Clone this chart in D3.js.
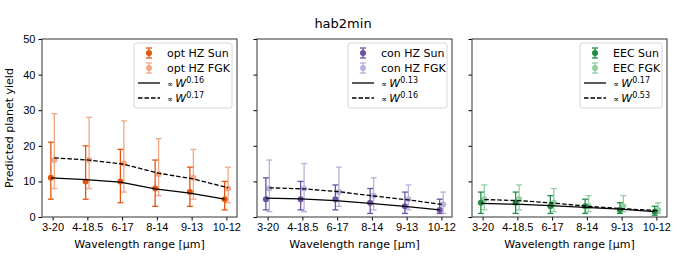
<!DOCTYPE html>
<meta charset="utf-8">
<style>
  body { margin: 0; background: #fff; }
  svg { font-family: "DejaVu Sans", sans-serif; }
  .tick text { font-size: 11px; fill: #000; }
  .tick line { stroke: #000; }
  .domain { display: none; }
</style>
<body>
<div id="chart"></div>
<script src="https://d3js.org/d3.v7.min.js"></script>
<script>
const categories = ["3-20", "4-18.5", "6-17", "8-14", "9-13", "10-12"];
const yTicks = [0, 10, 20, 30, 40, 50];

// opt HZ
const optSun = [11, 10, 10, 8, 7, 5];
const optSunLo = [5, 5, 4, 3, 3, 2];
const optSunHi = [21, 20, 19, 16, 14, 10];
const optFgk = [16, 16, 15, 12, 11, 8];
const optFgkLo = [8, 8, 7, 6, 5, 4];
const optFgkHi = [29, 28, 27, 22, 19, 14];
const optFitSun = [11, 10.5, 9.8, 7.9, 6.7, 5];
const optFitFgk = [16.6, 16, 14.8, 12.3, 10.7, 8.2];

// con HZ
const conSun = [5, 5, 5, 4, 3, 2];
const conSunLo = [2, 2, 2, 1, 1, 1];
const conSunHi = [11, 10, 9, 8, 7, 5];
const conFgk = [8, 8, 7, 6, 5, 3.5];
const conFgkLo = [1.5, 1.5, 3, 2, 2, 1];
const conFgkHi = [16, 15, 14, 11, 9, 7];
const conFitSun = [5.3, 5.1, 4.6, 3.8, 3.0, 2.0];
const conFitFgk = [8.2, 7.9, 7.1, 5.9, 4.8, 3.5];

// EEC
const eecSun = [4, 4, 3, 3, 2, 1.5];
const eecSunLo = [1, 1, 1, 1, 1, 0.5];
const eecSunHi = [7, 7, 6, 5, 4, 3];
const eecFgk = [5, 5, 4, 3, 3, 2];
const eecFgkLo = [2, 2, 1.5, 1.5, 1.5, 1];
const eecFgkHi = [9, 9, 8, 6, 6, 4];
const eecFitSun = [3.8, 3.6, 3.2, 2.7, 2.2, 1.5];
const eecFitFgk = [4.9, 4.6, 3.9, 3.0, 2.3, 1.8];

const panels = [
  {left: 42, name: "opt HZ", sunColor: "#e6550d", fgkColor: "#f08a5d", exps: ["0.16", "0.17"],
   sun: optSun, sunLo: optSunLo, sunHi: optSunHi, fgk: optFgk, fgkLo: optFgkLo, fgkHi: optFgkHi,
   fitSun: optFitSun, fitFgk: optFitFgk, legX: 134, legW: 98},
  {left: 257, name: "con HZ", sunColor: "#6a51a3", fgkColor: "#a397d0", exps: ["0.13", "0.16"],
   sun: conSun, sunLo: conSunLo, sunHi: conSunHi, fgk: conFgk, fgkLo: conFgkLo, fgkHi: conFgkHi,
   fitSun: conFitSun, fitFgk: conFitFgk, legX: 348, legW: 99},
  {left: 472, name: "EEC", sunColor: "#238b45", fgkColor: "#6fbf85", exps: ["0.17", "0.53"],
   sun: eecSun, sunLo: eecSunLo, sunHi: eecSunHi, fgk: eecFgk, fgkLo: eecFgkLo, fgkHi: eecFgkHi,
   fitSun: eecFitSun, fitFgk: eecFitFgk, legX: 580, legW: 82}
];

const width = 685, height = 257;
const plotTop = 39, plotBottom = 217, pw = 195;

const svg = d3.select("#chart").append("svg")
  .attr("width", width).attr("height", height);

svg.append("text").attr("x", 343).attr("y", 28).attr("text-anchor", "middle")
  .style("font-size", "13px").text("hab2min");

const y = d3.scaleLinear().domain([0, 50]).range([plotBottom, plotTop]);
const off = 0.05;

panels.forEach((p, pi) => {
  const x = d3.scaleLinear().domain([-0.305, 5.305]).range([p.left, p.left + pw]);
  const g = svg.append("g");

  // axes
  g.append("g").attr("transform", `translate(0,${plotBottom})`)
    .call(d3.axisBottom(x).tickValues(d3.range(categories.length))
      .tickFormat(i => categories[i]).tickSize(3.5).tickPadding(3));
  g.append("g").attr("transform", `translate(${p.left},0)`)
    .call(d3.axisLeft(y).tickValues(yTicks).tickSize(3.5).tickPadding(3)
      .tickFormat(pi === 0 ? d3.format("d") : () => ""));

  g.append("text").attr("x", p.left + pw / 2).attr("y", 248).attr("text-anchor", "middle")
    .style("font-size", "11px").text("Wavelength range [μm]");

  const series = [
    {v: p.fgk, lo: p.fgkLo, hi: p.fgkHi, color: p.fgkColor, dx: off, op: 0.75},
    {v: p.sun, lo: p.sunLo, hi: p.sunHi, color: p.sunColor, dx: -off, op: 1}
  ];

  series.forEach(s => {
    const sg = g.append("g").attr("opacity", s.op);
    s.v.forEach((v, i) => {
      const cx = x(i + s.dx);
      sg.append("line").attr("x1", cx).attr("x2", cx).attr("y1", y(s.lo[i])).attr("y2", y(s.hi[i]))
        .attr("stroke", s.color).attr("stroke-width", 1.3);
      [s.lo[i], s.hi[i]].forEach(e => {
        sg.append("line").attr("x1", cx - 3).attr("x2", cx + 3).attr("y1", y(e)).attr("y2", y(e))
          .attr("stroke", s.color).attr("stroke-width", 1.3);
      });
      sg.append("circle").attr("cx", cx).attr("cy", y(v)).attr("r", 3).attr("fill", s.color);
    });
  });

  const line = dx => d3.line().x((d, i) => x(i + dx)).y(d => y(d));
  g.append("path").datum(p.fitSun).attr("d", line(-off)).attr("fill", "none")
    .attr("stroke", "#000").attr("stroke-width", 1.3);
  g.append("path").datum(p.fitFgk).attr("d", line(off)).attr("fill", "none")
    .attr("stroke", "#000").attr("stroke-width", 1.3).attr("stroke-dasharray", "4.5,2");

  // frame
  g.append("rect").attr("x", p.left).attr("y", plotTop).attr("width", pw).attr("height", plotBottom - plotTop)
    .attr("fill", "none").attr("stroke", "#333").attr("stroke-width", 1);

  // legend
  const lg = g.append("g");
  lg.append("rect").attr("x", p.legX).attr("y", 43).attr("width", p.legW).attr("height", 65)
    .attr("rx", 2.5).attr("fill", "#fff").attr("fill-opacity", 0.8)
    .attr("stroke", "#d6d6d6").attr("stroke-width", 1);
  const hx = p.legX + 15, tx = p.legX + 33;
  const rows = [53, 68, 83, 98];
  [[p.sunColor, 1, "Sun"], [p.fgkColor, 0.75, "FGK"]].forEach((c, k) => {
    const ry = rows[k];
    const mg = lg.append("g").attr("opacity", c[1]);
    mg.append("line").attr("x1", hx).attr("x2", hx).attr("y1", ry - 5).attr("y2", ry + 5)
      .attr("stroke", c[0]).attr("stroke-width", 1.3);
    [ry - 5, ry + 5].forEach(e => mg.append("line").attr("x1", hx - 3).attr("x2", hx + 3)
      .attr("y1", e).attr("y2", e).attr("stroke", c[0]).attr("stroke-width", 1.3));
    mg.append("circle").attr("cx", hx).attr("cy", ry).attr("r", 3).attr("fill", c[0]);
    lg.append("text").attr("x", tx).attr("y", ry + 4).style("font-size", "11px")
      .text(p.name + " " + c[2]);
  });
  p.exps.forEach((e, k) => {
    const ry = rows[k + 2];
    lg.append("line").attr("x1", hx - 11).attr("x2", hx + 11).attr("y1", ry).attr("y2", ry)
      .attr("stroke", "#000").attr("stroke-width", 1.3)
      .attr("stroke-dasharray", k === 1 ? "4.5,2" : null);
    const t = lg.append("text").attr("x", tx).attr("y", ry + 4).style("font-size", "11px");
    t.append("tspan").style("font-size", "8px").text("∝ ");
    t.append("tspan").style("font-style", "italic").text("W");
    t.append("tspan").attr("dy", -4).style("font-size", "8px").text(e);
  });
});

svg.append("text").attr("transform", `translate(13,${(plotTop + plotBottom) / 2}) rotate(-90)`)
  .attr("text-anchor", "middle").style("font-size", "11px").text("Predicted planet yield");
</script>
</body>
